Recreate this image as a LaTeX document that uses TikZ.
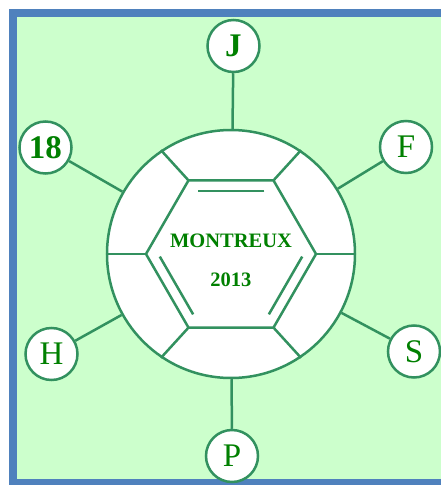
\documentclass[tikz,border=0pt]{standalone}
\usepackage{fontspec}
\setmainfont{Liberation Serif}

\definecolor{frameblue}{HTML}{4F81BD}
\definecolor{pitchgreen}{HTML}{CCFFCC}
\definecolor{linegreen}{RGB}{50,145,95}
\definecolor{textgreen}{HTML}{008000}

\begin{document}
\begin{tikzpicture}[x = 1pt, y = 1pt,
  ball/.style  = {circle, draw = linegreen, line width = 2.5pt, fill = white,
                  minimum size = 248pt, inner sep = 0pt},
  team/.style  = {circle, draw = linegreen, line width = 2.5pt, fill = white,
                  minimum size = 52pt, inner sep = 0pt, text = textgreen,
                  font = \fontsize{33}{33}\selectfont},
  seam/.style  = {draw = linegreen, line width = 2.5pt},
  title/.style = {text = textgreen, inner sep = 0pt,
                  font = \fontsize{20.5}{20.5}\selectfont\bfseries}]

\useasboundingbox (-231, -231) rectangle (210, 254);

\fill[pitchgreen] (-218, -229) -- (-218, 241) -- (210, 241) -- (210, -229) -- cycle;
\draw[line width = 8pt, frameblue] (210, 241) -- (-218, 241) -- (-218, -229) -- (210, -229);

\node[ball] (ball) at (0, 0) {};

\foreach \a [count = \i] in {0, 60, ..., 300} {
  \coordinate (h\i) at (\a:85);
  \coordinate (g\i) at (\a:72.7);
}

% hexagon and seams
\draw[seam] (h1) -- (h2) -- (h3) -- (h4) -- (h5) -- (h6) -- cycle;

\draw[seam] (h1) -- (ball.0);
\draw[seam] (h2) -- (ball.56);
\draw[seam] (h3) -- (ball.124);
\draw[seam] (h4) -- (ball.180);
\draw[seam] (h5) -- (ball.236);
\draw[seam] (h6) -- (ball.304);

\draw[seam, shorten <= 3pt, shorten >= 3pt] (g2) -- (g3);
\draw[seam, shorten <= 3pt, shorten >= 3pt] (g4) -- (g5);
\draw[seam, shorten <= 3pt, shorten >= 3pt] (g6) -- (g1);

\node[title] (town) at (0,  13.0) {MONTREUX};
\node[title] (year) at (0, -25.5) {2013};

% letters round the ball
\node[team] (j)        at (   2.5,  208.0) {\bfseries J};
\node[team] (eighteen) at (-185.5,  106.5) {\bfseries 18};
\node[team] (f)        at ( 175.0,  107.0) {F};
\node[team] (h)        at (-179.5, -100.0) {H};
\node[team] (s)        at ( 183.0,  -97.5) {S};
\node[team] (p)        at (   1.0, -202.0) {P};

\draw[seam] (ball) -- (j);
\draw[seam] (ball) -- (eighteen);
\draw[seam] (ball) -- (f);
\draw[seam] (ball) -- (h);
\draw[seam] (ball) -- (s);
\draw[seam] (ball) -- (p);

\end{tikzpicture}
\end{document}
